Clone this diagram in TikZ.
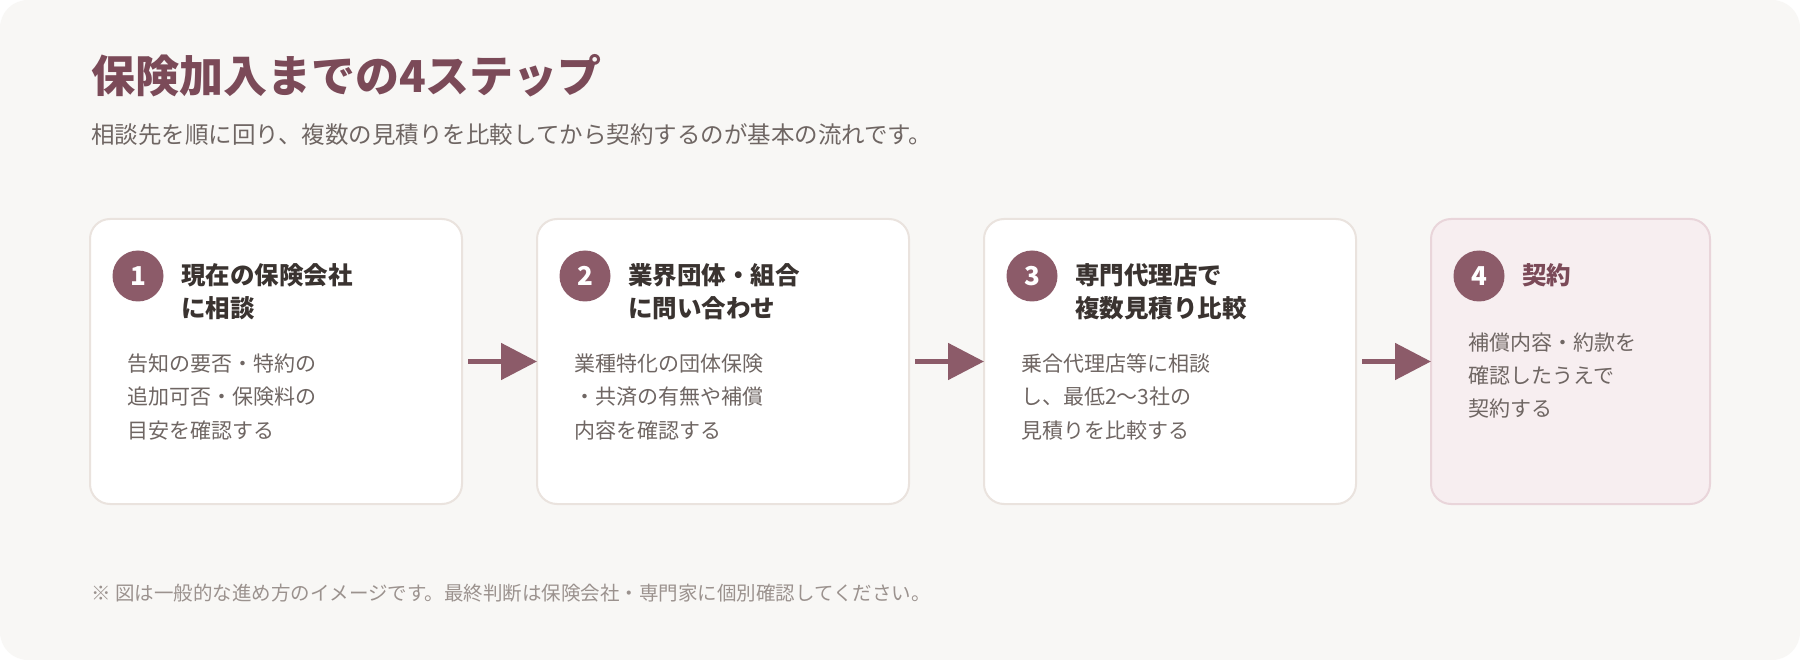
\documentclass[tikz,border=0pt]{standalone}
\usepackage{fontspec}
\setmainfont{Noto Sans CJK JP}
\usetikzlibrary{arrows.meta}
\definecolor{bgpanel}{HTML}{F8F7F5}
\definecolor{cardline}{HTML}{EAE3DE}
\definecolor{lastfill}{HTML}{F7EEF0}
\definecolor{lastline}{HTML}{E9D5DA}
\definecolor{accent}{HTML}{8C5B69}
\definecolor{maintitle}{HTML}{7B4A58}
\definecolor{headtext}{HTML}{3A3330}
\definecolor{bodytext}{HTML}{6F6663}
\definecolor{footnote}{HTML}{9B928E}
\begin{document}
\begin{tikzpicture}[x=1pt,y=-1pt,
  card/.style={draw=cardline, line width=2pt, fill=white, rounded corners=20pt,
    minimum width=372pt, minimum height=285pt, inner sep=0pt, outer sep=0pt, anchor=north west},
  lastcard/.style={card, draw=lastline, fill=lastfill, minimum width=279pt},
  numc/.style={circle, fill=accent, minimum size=51pt, inner sep=0pt, text=white,
    font=\fontsize{26pt}{26pt}\selectfont\bfseries},
  head/.style={anchor=base west, inner sep=0pt, text=headtext,
    font=\fontsize{24.5pt}{33pt}\selectfont\bfseries},
  body/.style={anchor=base west, inner sep=0pt, text=bodytext,
    font=\fontsize{21pt}{33pt}\selectfont},
  flow/.style={draw=accent, line width=5pt, shorten <=6pt,
    -{Triangle[length=36pt,width=36pt]}}
]
\useasboundingbox (0,0) rectangle (1800,660);
\fill[white] (0,0) rectangle (1800,660);
\fill[bgpanel, rounded corners=28pt] (0,0) rectangle (1800,660);

% heading
\node[anchor=base west, inner sep=0pt, text=maintitle,
  font=\fontsize{44pt}{50pt}\selectfont\bfseries] (title) at (91,92.5) {保険加入までの4ステップ};
\node[anchor=base west, inner sep=0pt, text=bodytext,
  font=\fontsize{23.5pt}{30pt}\selectfont] (subtitle) at (91,143.5)
  {相談先を順に回り、複数の見積りを比較してから契約するのが基本の流れです。};

% cards
\node[card] (c1) at (90,219) {};
\node[card] (c2) at (537,219) {};
\node[card] (c3) at (984,219) {};
\node[lastcard] (c4) at (1431,219) {};

% arrows
\draw[flow] (c1.east) -- (c2.west);
\draw[flow] (c2.east) -- (c3.west);
\draw[flow] (c3.east) -- (c4.west);

% card 1
\node[numc] (n1) at (138,276) {1};
\node[head] (h1a) at (181,285) {現在の保険会社};
\node[head] (h1b) at (181,318) {に相談};
\node[body] (b1a) at (127,372) {告知の要否・特約の};
\node[body] (b1b) at (127,405) {追加可否・保険料の};
\node[body] (b1c) at (127,438) {目安を確認する};

% card 2
\node[numc] (n2) at (585,276) {2};
\node[head] (h2a) at (628,285) {業界団体・組合};
\node[head] (h2b) at (628,318) {に問い合わせ};
\node[body] (b2a) at (574,372) {業種特化の団体保険};
\node[body] (b2b) at (574,405) {・共済の有無や補償};
\node[body] (b2c) at (574,438) {内容を確認する};

% card 3
\node[numc] (n3) at (1032,276) {3};
\node[head] (h3a) at (1075,285) {専門代理店で};
\node[head] (h3b) at (1075,318) {複数見積り比較};
\node[body] (b3a) at (1021,372) {乗合代理店等に相談};
\node[body] (b3b) at (1021,405) {し、最低2〜3社の};
\node[body] (b3c) at (1021,438) {見積りを比較する};

% card 4
\node[numc] (n4) at (1479,276) {4};
\node[head, text=maintitle] (h4a) at (1522,285) {契約};
\node[body] (b4a) at (1468,351) {補償内容・約款を};
\node[body] (b4b) at (1468,384) {確認したうえで};
\node[body] (b4c) at (1468,417) {契約する};

% footnote
\node[anchor=base west, inner sep=0pt, text=footnote,
  font=\fontsize{19.5pt}{24pt}\selectfont] (note) at (91,600.5)
  {※ 図は一般的な進め方のイメージです。最終判断は保険会社・専門家に個別確認してください。};
\end{tikzpicture}
\end{document}
